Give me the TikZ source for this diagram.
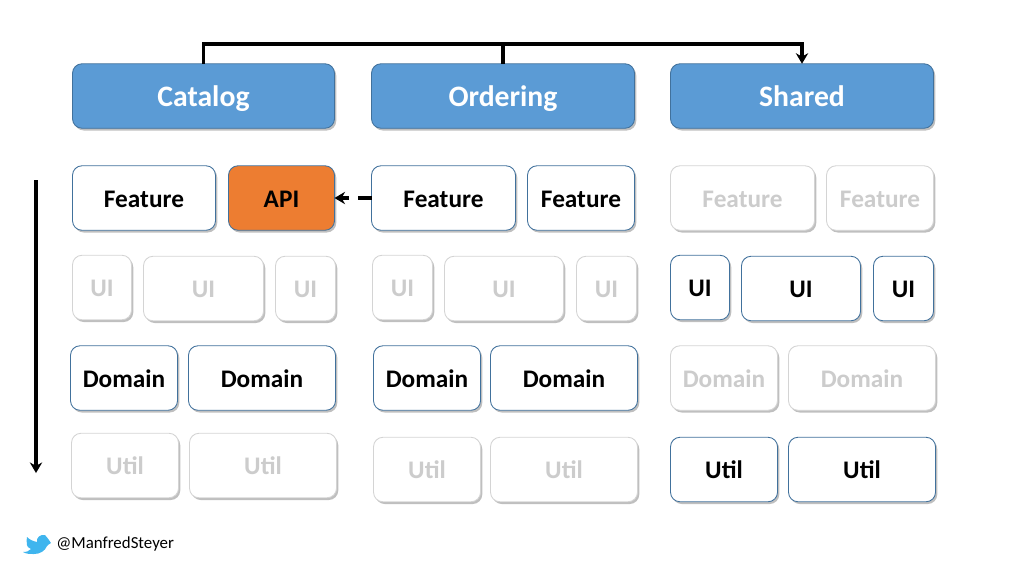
\documentclass[tikz,border=0pt]{standalone}
\usepackage{fontspec}
\usepackage{xcolor}
\setmainfont{Carlito}
\usetikzlibrary{arrows.meta,positioning,shadows}
\definecolor{headblue}{HTML}{5B9BD5}
\definecolor{edgeblue}{HTML}{41719C}
\definecolor{apiorange}{HTML}{ED7D31}
\definecolor{dimtext}{HTML}{CCCCCC}
\definecolor{dimedge}{HTML}{D4D4D4}
\definecolor{birdblue}{HTML}{3FB5EE}

\begin{document}
\begin{tikzpicture}[
  x=0.02cm, y=-0.02cm,
  mod/.style={rectangle, draw, rounded corners=0.19cm, outer sep=0pt, inner sep=0pt,
    font=\bfseries\fontsize{14.4}{16}\selectfont, text height=0.37cm, text depth=0pt,
    minimum height=1.29cm, minimum width=(#1-1)*0.02cm, line width=0.5pt, fill=white,
    drop shadow={shadow xshift=0.035cm, shadow yshift=-0.045cm, fill=black!50, opacity=0.5}},
  act/.style={mod=#1, draw=edgeblue, text=black},
  dim/.style={mod=#1, draw=dimedge, text=dimtext},
  head/.style={mod=#1, draw=edgeblue, fill=headblue, text=white, text height=0.42cm,
    font=\bfseries\fontsize{16.9}{18}\selectfont},
  api/.style={mod=#1, draw=edgeblue, fill=apiorange, text=black},
  link/.style={line width=1.9pt, -{Stealth[length=6pt,width=7pt]}},
  wire/.style={line width=1.9pt},
  >=Stealth
]
  \useasboundingbox (0,0) rectangle (1024,576);

  % domains
  \node[head=263] (catalog) at (203.5,96) {Catalog};
  \node[head=264] (ordering) at (503,96) {Ordering};
  \node[head=264] (shared) at (802,96) {Shared};

  % feature row
  \node[act=144] (catfeat) at (144,198) {Feature};
  \node[api=107] (catapi) at (281.5,198) {API};
  \node[act=145] (ordfeata) at (443.5,198) {Feature};
  \node[act=108] (ordfeatb) at (581,198) {Feature};
  \node[dim=145] (shfeata) at (742.5,198) {Feature};
  \node[dim=108] (shfeatb) at (880,198) {Feature};

  % ui row
  \node[dim=60] (catuia) at (102,287.5) {UI};
  \node[dim=121] (catuib) at (203.5,288.5) {UI};
  \node[dim=61] (catuic) at (305.5,288.5) {UI};
  \node[dim=61] (orduia) at (402.5,287.5) {UI};
  \node[dim=120] (orduib) at (504,288.5) {UI};
  \node[dim=61] (orduic) at (606.5,288.5) {UI};
  \node[act=60] (shuia) at (700,287.5) {UI};
  \node[act=120] (shuib) at (801,288.5) {UI};
  \node[act=61] (shuic) at (903.5,288.5) {UI};

  % domain row
  \node[act=108] (catdoma) at (124,378) {Domain};
  \node[act=148] (catdomb) at (262,378) {Domain};
  \node[act=108] (orddoma) at (427,378) {Domain};
  \node[act=148] (orddomb) at (564,378) {Domain};
  \node[dim=108] (shdoma) at (724,378) {Domain};
  \node[dim=148] (shdomb) at (862,378) {Domain};

  % util row
  \node[dim=108] (catutila) at (125,465.5) {Util};
  \node[dim=148] (catutilb) at (263,465.5) {Util};
  \node[dim=108] (ordutila) at (427,469.5) {Util};
  \node[dim=148] (ordutilb) at (564,469.5) {Util};
  \node[act=108] (shutila) at (724,469.5) {Util};
  \node[act=148] (shutilb) at (862,469.5) {Util};

  % connectors
  \coordinate (bustop) at (503,44);
  \draw[link] (catalog.north) |- (bustop) -| (shared.north);
  \draw[wire] (ordering.north) -- (bustop);
  \coordinate (depgap) at (358,198);
  \coordinate (deptip) at (349,198);
  \draw[wire] (ordfeata.west) -- (depgap);
  \draw[link] (deptip) -- (catapi.east);

  \coordinate (layertop) at (36,180);
  \coordinate (layerend) at (36,473);
  \draw[link] (layertop) -- (layerend);

  % footer
  \fill[birdblue] (23,552) .. controls (27,552) and (29,551) .. (31,549)
    .. controls (28,548) and (27,546) .. (27,545)
    .. controls (27,542) and (26,539) .. (27,537)
    .. controls (30,540) and (33,541) .. (37,542)
    .. controls (36,538) and (40,534) .. (45,535)
    .. controls (47,537) and (49,540) .. (51,543)
    .. controls (49,544) and (48,545) .. (47,546)
    .. controls (45,551) and (40,554) .. (34,554)
    .. controls (30,554) and (26,554) .. cycle;
  \node[anchor=base west, inner sep=0pt, font=\fontsize{9.6}{12}\selectfont] (handle) at (56,548) {@ManfredSteyer};
\end{tikzpicture}
\end{document}
